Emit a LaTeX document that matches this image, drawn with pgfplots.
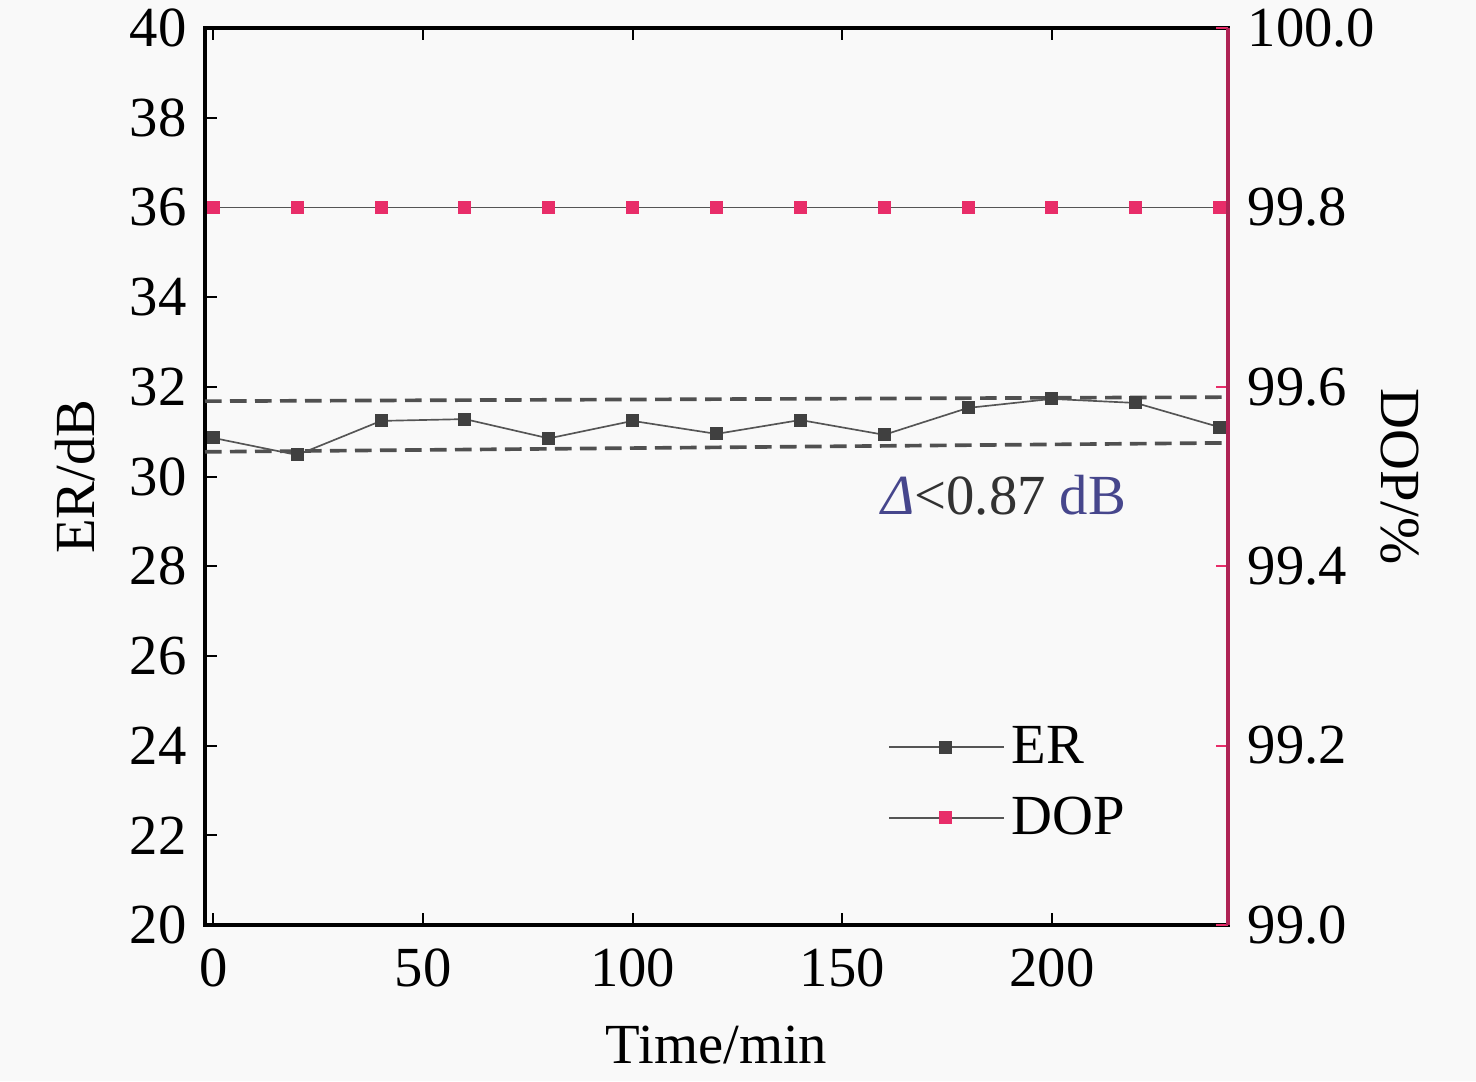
\documentclass[border=0pt]{standalone}
\usepackage{pgfplots}
\pgfplotsset{compat=1.18}
\usepackage{fontspec}
\setmainfont{Liberation Serif}
\newfontfamily\tnr{Liberation Serif}
\newcommand{\bigf}{\tnr\fontsize{17}{20}\selectfont}
\usetikzlibrary{backgrounds}
\definecolor{ergray}{RGB}{64,64,64}
\definecolor{linegray}{RGB}{85,85,85}
\definecolor{doppink}{RGB}{232,45,105}
\definecolor{raxis}{RGB}{175,35,85}
\definecolor{dashgray}{RGB}{80,80,80}
\definecolor{txtgray}{RGB}{50,50,50}
\definecolor{deltablue}{RGB}{70,70,140}
\definecolor{bg}{RGB}{249,249,249}
\pgfplotstableread{
x y
0 30.86
20 30.48
40 31.24
60 31.28
80 30.85
100 31.24
120 30.95
140 31.26
160 30.93
180 31.53
200 31.73
220 31.64
240 31.10
}\ertable
\pgfplotstableread{
x y
0 99.8
20 99.8
40 99.8
60 99.8
80 99.8
100 99.8
120 99.8
140 99.8
160 99.8
180 99.8
200 99.8
220 99.8
240 99.8
}\doptable
\begin{document}
\begin{tikzpicture}
\begin{axis}[
  name=ax,
  scale only axis,
  width=306.9pt, height=269.1pt,
  xmin=-2, xmax=242,
  ymin=20, ymax=40,
  xtick={0,50,100,150,200},
  ytick={20,22,...,40},
  xtick pos=both,
  ytick pos=left,
  tick align=inside,
  major tick length=3.6pt,
  every tick/.style={line width=0.6pt, black},
  axis line style={line width=1.1pt},
  /pgf/number format/assume math mode=true,
  xticklabel style={font=\bigf, yshift=-3.6pt},
  yticklabel style={font=\bigf, xshift=-2pt},
  xlabel={Time/min},
  ylabel={ER/dB},
  every axis x label/.style={at={(axis description cs:0.5,-0.134)}, anchor=center, font=\bigf},
  every axis y label/.style={at={(axis description cs:-0.127,0.5)}, rotate=90, anchor=center, font=\bigf},
  legend style={at={(axis cs:160.8,24.6)}, anchor=north west, draw=none, fill=none,
    font=\bigf, row sep=4.5pt, inner sep=0pt,
    cells={anchor=west}},
  legend image code/.code={
    \draw[mark repeat=2, mark phase=2] plot coordinates {(0pt,0pt) (17pt,0pt) (34.5pt,0pt)};
  },
]
\addplot[dashgray, dashed, line width=1.1pt, dash pattern=on 5pt off 2.5pt, forget plot] coordinates {(-2,31.68) (242,31.77)};
\addplot[dashgray, dashed, line width=1.1pt, dash pattern=on 5pt off 2.5pt, forget plot] coordinates {(-2,30.55) (242,30.75)};
\addplot[linegray, line width=0.5pt, mark=square*, mark size=1.7pt, mark options={ergray, fill=ergray}] table[x=x,y=y] {\ertable};
\addlegendentry{ER}
\addlegendimage{linegray, line width=0.5pt, mark=square*, mark size=1.7pt, mark options={doppink, fill=doppink}}
\addlegendentry{DOP}
\node[anchor=center, font=\bigf] at (axis cs:188.5,29.58)
  {\textcolor{deltablue}{\textit{Δ}}\textcolor{txtgray}{<0.87} \textcolor{deltablue}{dB}};
\end{axis}
\begin{axis}[
  scale only axis,
  width=306.9pt, height=269.1pt,
  xmin=-2, xmax=242,
  ymin=99, ymax=100,
  axis x line=none,
  axis y line*=right,
  ytick={99,99.2,...,100},
  tick align=inside,
  major tick length=3.6pt,
  every tick/.style={line width=0.6pt, doppink},
  y axis line style={line width=1.1pt, raxis, -},
  /pgf/number format/assume math mode=true,
  yticklabel style={font=\bigf, xshift=2.4pt, /pgf/number format/.cd, fixed, fixed zerofill, precision=1},
  ylabel={DOP/\%},
  every axis y label/.style={at={(axis description cs:1.168,0.5)}, rotate=-90, anchor=center, font=\bigf},
]
\addplot[linegray, line width=0.5pt, mark=square*, mark size=1.7pt, mark options={doppink, fill=doppink}] table[x=x,y=y] {\doptable};
\end{axis}
\pgfresetboundingbox
\path (ax.south west) ++(-61.5pt,-46.8pt) coordinate (bl);
\path (ax.north east) ++(74.4pt,8.4pt) coordinate (tr);
\begin{scope}[on background layer]
\fill[bg] (bl) rectangle (tr);
\end{scope}
\path[use as bounding box] (bl) rectangle (tr);
\end{tikzpicture}
\end{document}
